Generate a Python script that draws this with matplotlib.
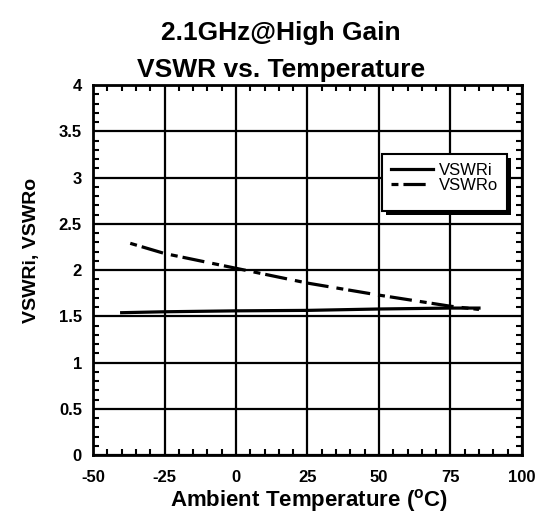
import numpy as np
import matplotlib
matplotlib.use("Agg")
import matplotlib.pyplot as plt
from matplotlib.ticker import MultipleLocator
from matplotlib.patches import Rectangle

plt.rcParams['font.family'] = ['Liberation Sans', 'DejaVu Sans']
plt.rcParams['mathtext.fontset'] = 'custom'
plt.rcParams['mathtext.bf'] = 'Liberation Sans:bold'
plt.rcParams['mathtext.rm'] = 'Liberation Sans:bold'
plt.rcParams['lines.scale_dashes'] = False
plt.rcParams['axes.unicode_minus'] = False

# data
temp_i = [-40, -25, 0, 25, 50, 75, 85]
vswr_i = [1.54, 1.55, 1.56, 1.565, 1.58, 1.59, 1.59]
temp_o = [-37, -25, 0, 25, 50, 75, 85]
vswr_o = [2.29, 2.18, 2.02, 1.86, 1.73, 1.61, 1.575]

W, H = 538, 519
fig = plt.figure(figsize=(W / 100, H / 100), dpi=100)
ax = fig.add_axes([0.173, 0.123, 0.797, 0.713])

ax.plot(temp_i, vswr_i, color='black', lw=2.3, label='VSWRi')
ax.plot(temp_o, vswr_o, color='black', lw=2.3, dashes=(5, 3.6, 16, 5.8), label='VSWRo')

ax.set_xlim(-50, 100)
ax.set_ylim(0, 4)
ax.xaxis.set_major_locator(MultipleLocator(25))
ax.xaxis.set_minor_locator(MultipleLocator(5))
ax.yaxis.set_minor_locator(MultipleLocator(0.1))
ax.set_yticks([0, 0.5, 1, 1.5, 2, 2.5, 3, 3.5, 4])
ax.set_yticklabels(['0', '0.5', '1', '1.5', '2', '2.5', '3', '3.5', '4'])

ax.grid(True, which='major', color='black', lw=1.6)
ax.tick_params(which='major', length=0, labelsize=12)
ax.tick_params(axis='x', which='major', pad=11)
ax.tick_params(axis='y', which='major', pad=8)
ax.tick_params(which='minor', direction='in', length=4, width=1.5,
               top=True, right=True, left=True, bottom=True)
for lab in ax.get_xticklabels() + ax.get_yticklabels():
    lab.set_fontweight('bold')
for s in ax.spines.values():
    s.set_linewidth(2)

fig.text(309 / W, 1 - 506 / H, r'Ambient Temperature ($^{\mathbf{o}}$C)',
         fontsize=16, fontweight='bold', ha='center', va='baseline')
fig.text(32 / W, 1 - 250 / H, 'VSWRi, VSWRo', fontsize=14, fontweight='bold',
         ha='center', va='center', rotation=90)
fig.text(281 / W, 1 - 40 / H, '2.1GHz@High Gain', fontsize=19, fontweight='bold',
         ha='center', va='baseline')
fig.text(281 / W, 1 - 77 / H, 'VSWR vs. Temperature', fontsize=19, fontweight='bold',
         ha='center', va='baseline')

# legend box with a hard shadow, as in the reference
bx0, bx1, by0, by1 = 382, 507, 154, 211
fig.patches.append(Rectangle(((bx0 + 4) / W, 1 - (by1 + 4) / H), (bx1 - bx0) / W,
                             (by1 - by0) / H, transform=fig.transFigure,
                             facecolor='black', edgecolor='none', zorder=5))
fig.patches.append(Rectangle((bx0 / W, 1 - by1 / H), (bx1 - bx0) / W, (by1 - by0) / H,
                             transform=fig.transFigure, facecolor='white',
                             edgecolor='black', lw=1.5, zorder=5))
leg = ax.legend(loc='upper left', bbox_to_anchor=(391 / W, 1 - 163 / H),
                bbox_transform=fig.transFigure, borderaxespad=0, borderpad=0,
                fontsize=12, frameon=False, handlelength=2.5,
                labelspacing=0, handletextpad=0.35)
leg.set_zorder(6)
leg.remove()
fig.add_artist(leg)

fig.savefig('out.png', dpi=100)
